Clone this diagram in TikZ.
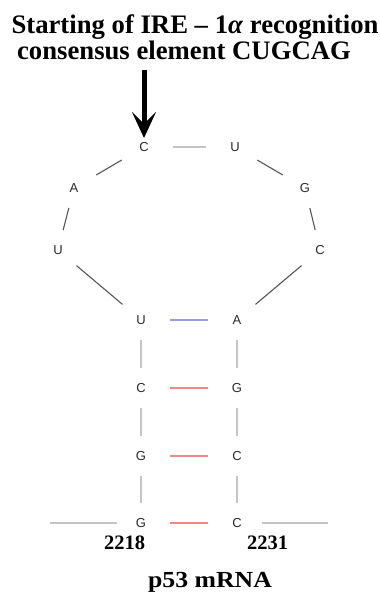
\documentclass[tikz,border=0pt]{standalone}
\usepackage{fontspec}
\setmainfont{Liberation Serif}
\newfontfamily\ntfont{Liberation Sans}
\usetikzlibrary{arrows.meta,shapes.geometric}
\definecolor{ntcol}{HTML}{2A2A2A}
\definecolor{loopgray}{HTML}{555555}
\definecolor{lightgray}{HTML}{C4C4C4}
\definecolor{pairblue}{HTML}{9C9CE6}
\definecolor{pairred}{HTML}{F08888}
\begin{document}
\begin{tikzpicture}[x=1pt,y=-1pt,
  nt/.style={ellipse, minimum width=58pt, minimum height=40pt, inner sep=0pt,
    font=\ntfont\fontsize{13}{15}\selectfont, text=ntcol},
  loopline/.style={draw=loopgray, line width=1.1pt},
  bbline/.style={draw=lightgray, line width=1.5pt},
  aupair/.style={draw=pairblue, line width=1.5pt},
  gcpair/.style={draw=pairred, line width=1.5pt},
  title/.style={anchor=base, font=\bfseries\fontsize{26.7}{28}\selectfont},
  num/.style={anchor=base, font=\bfseries\fontsize{20.5}{22}\selectfont},
  bigarrow/.style={line width=5pt, -{Stealth[length=26pt,width=24pt,inset=12pt]}}]
\useasboundingbox (0,0) rectangle (380,595);

% titles
\node[title] (t1) at (195,33) {Starting of IRE – 1\textit{α} recognition};
\node[title] (t2) at (184,59) {consensus element CUGCAG};

% nucleotides
\node[nt] (c1) at (144,147) {C};
\node[nt] (u1) at (235,147) {U};
\node[nt] (a1) at (74,188) {A};
\node[nt] (g1) at (305,188) {G};
\node[nt] (u2) at (58,250) {U};
\node[nt] (c2) at (320,250) {C};
\node[nt] (u3) at (141,320) {U};
\node[nt] (a3) at (237,320) {A};
\node[nt] (c4) at (141,388) {C};
\node[nt] (g4) at (237,388) {G};
\node[nt] (g5) at (141,456) {G};
\node[nt] (c5) at (237,456) {C};
\node[nt] (g6) at (141,523) {G};
\node[nt] (c6) at (237,523) {C};

% arrow
\coordinate (as) at (144,70);
\draw[bigarrow] (as) -- ([yshift=9pt]c1.center);

% loop
\draw[bbline] (c1) -- (u1);
\draw[loopline] (c1) -- (a1);
\draw[loopline] (a1) -- (u2);
\draw[loopline] (u2) -- (u3);
\draw[loopline] (u1) -- (g1);
\draw[loopline] (g1) -- (c2);
\draw[loopline] (c2) -- (a3);

% stem backbone
\draw[bbline] (u3) -- (c4);
\draw[bbline] (c4) -- (g5);
\draw[bbline] (g5) -- (g6);
\draw[bbline] (a3) -- (g4);
\draw[bbline] (g4) -- (c5);
\draw[bbline] (c5) -- (c6);

% pairs
\draw[aupair] (u3) -- (a3);
\draw[gcpair] (c4) -- (g4);
\draw[gcpair] (g5) -- (c5);
\draw[gcpair] (g6) -- (c6);

% external strands
\coordinate (el) at (50,523);
\coordinate (er) at (328,523);
\draw[bbline, shorten >=-5pt] (el) -- (g6);
\draw[bbline, shorten >=-4pt] (er) -- (c6);

% labels
\node[num] (n1) at (124.5,549) {2218};
\node[num] (n2) at (267.5,549) {2231};
\node[anchor=base, font=\bfseries\fontsize{23}{25}\selectfont, xscale=1.12, transform shape] (mrna) at (210,587) {p53 mRNA};
\end{tikzpicture}
\end{document}
